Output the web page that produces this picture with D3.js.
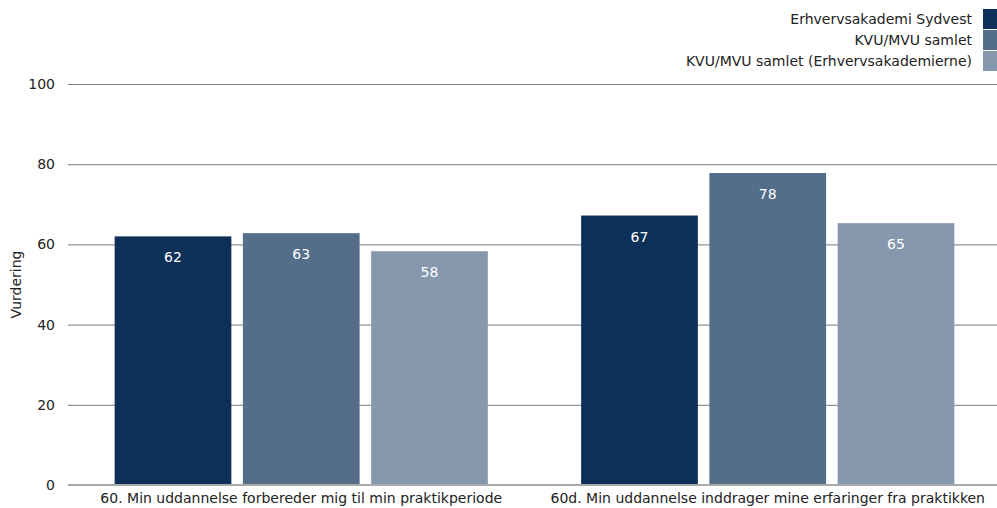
<!DOCTYPE html>
<html>
<head>
<meta charset="utf-8">
<script src="https://cdn.jsdelivr.net/npm/d3@7"></script>
<style>
  body { margin: 0; background: #fff; }
  svg text { font-family: "DejaVu Sans", sans-serif; fill: #222; }
</style>
</head>
<body>
<svg id="chart" width="997" height="508"></svg>
<script>
var categories = [
  "60. Min uddannelse forbereder mig til min praktikperiode",
  "60d. Min uddannelse inddrager mine erfaringer fra praktikken"
];
var seriesNames = [
  "Erhvervsakademi Sydvest",
  "KVU/MVU samlet",
  "KVU/MVU samlet (Erhvervsakademierne)"
];
var sydvest = [62.0, 67.2];
var kvuMvu = [62.8, 77.8];
var kvuMvuEak = [58.3, 65.3];
var yTicks = [0, 20, 40, 60, 80, 100];
var colors = ["#0c3057", "#546e8a", "#8698ae"];

var seriesValues = [sydvest, kvuMvu, kvuMvuEak];

var svg = d3.select("#chart"),
  margin = { top: 84, right: -4, bottom: 23, left: 68 },
  width = +svg.attr("width") - margin.left - margin.right,
  height = +svg.attr("height") - margin.top - margin.bottom;

var x0 = d3.scaleBand().domain(categories).range([0, width]).paddingInner(0.2).paddingOuter(0.1),
  x1 = d3.scaleBand().domain(d3.range(seriesNames.length)).range([0, x0.bandwidth()]).paddingInner(0.09),
  y = d3.scaleLinear().domain([0, 100]).range([height, 0]);

var g = svg.append("g").attr("transform", "translate(" + margin.left + "," + margin.top + ")");

// gridlines + y labels
var yAxis = d3.axisLeft(y).tickValues(yTicks).tickSize(-width).tickPadding(13);
g.append("g")
  .attr("class", "axis axis--y")
  .call(yAxis)
  .call(function(a) {
    a.select(".domain").remove();
    a.selectAll(".tick line").attr("stroke", "#7a7a7a").attr("stroke-width", 1);
    a.selectAll(".tick text").attr("font-size", 14).attr("fill", "#222");
  });

var groups = g.selectAll(".group")
  .data(categories)
  .enter().append("g")
  .attr("class", "group")
  .attr("transform", function(d) { return "translate(" + x0(d) + ",0)"; });

var fmt = d3.format(".0f");

seriesValues.forEach(function(vals, si) {
  groups.append("rect")
    .attr("x", x1(si))
    .attr("width", x1.bandwidth())
    .attr("y", function(d, i) { return y(vals[i]); })
    .attr("height", function(d, i) { return height - y(vals[i]); })
    .attr("fill", colors[si]);

  groups.append("text")
    .attr("x", x1(si) + x1.bandwidth() / 2)
    .attr("y", function(d, i) { return y(vals[i]) + 26; })
    .attr("text-anchor", "middle")
    .attr("font-size", 14)
    .style("fill", "#fff")
    .text(function(d, i) { return fmt(vals[i]); });
});

// zero baseline
g.append("line")
  .attr("x1", 0).attr("x2", width)
  .attr("y1", y(0)).attr("y2", y(0))
  .attr("stroke", "#a8a8a8").attr("stroke-width", 2);

// x labels
var xAxis = d3.axisBottom(x0).tickSize(0).tickPadding(8);
g.append("g")
  .attr("class", "axis axis--x")
  .attr("transform", "translate(0," + height + ")")
  .call(xAxis)
  .call(function(a) {
    a.select(".domain").remove();
    a.selectAll(".tick text").attr("font-size", 14).attr("fill", "#222");
  });

// y title
svg.append("text")
  .attr("transform", "translate(21," + (margin.top + height / 2) + ") rotate(-90)")
  .attr("text-anchor", "middle")
  .attr("font-size", 14)
  .text("Vurdering");

// legend
var legend = svg.append("g").attr("class", "legend");
seriesNames.forEach(function(name, i) {
  var ly = 9 + i * 21;
  legend.append("rect")
    .attr("x", 983).attr("y", ly)
    .attr("width", 14).attr("height", 20)
    .attr("fill", colors[i]);
  legend.append("text")
    .attr("x", 972).attr("y", ly + 15)
    .attr("text-anchor", "end")
    .attr("font-size", 14)
    .text(name);
});
</script>
</body>
</html>
